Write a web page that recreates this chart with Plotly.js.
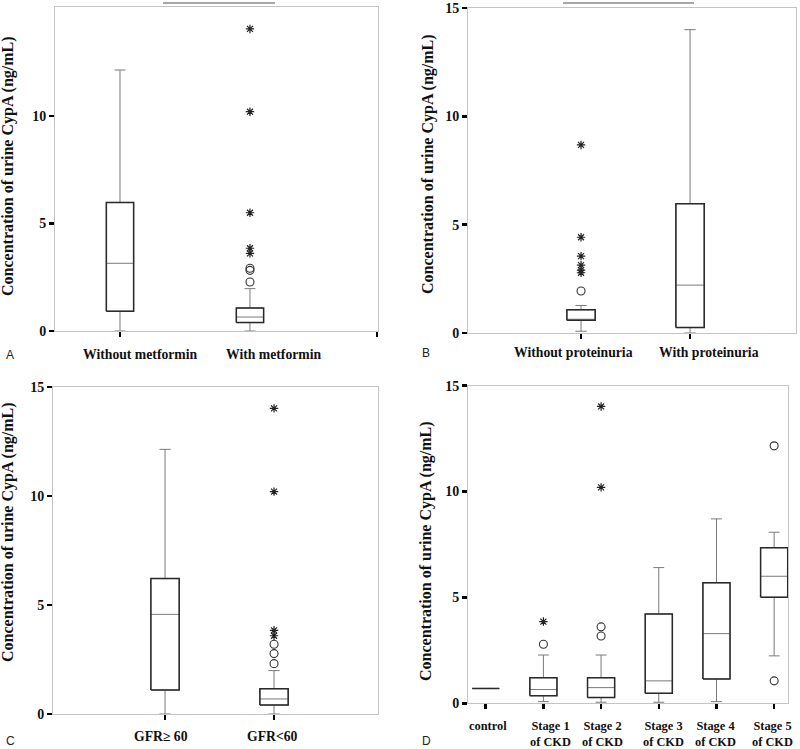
<!DOCTYPE html>
<html>
<head>
<meta charset="utf-8">
<script src="https://cdn.plot.ly/plotly-3.0.1.min.js"></script>
<style>html,body{margin:0;padding:0;background:#fff;}#chart{width:800px;height:749px;}</style>
</head>
<body>
<div id="chart"></div>
<script>
// ---- Data ----
// Panel A
const catsA = ["Without metformin", "With metformin"];
const q1A = [0.92, 0.39];
const medA = [3.15, 0.65];
const q3A = [5.98, 1.07];
const loA = [0.0, 0.0];
const hiA = [12.14, 1.97];
const circA = [2.28, 2.82, 2.92];
const circAcat = [1, 1, 1];
const starA = [3.61, 3.85, 5.5, 10.2, 14.05];
const starAcat = [1, 1, 1, 1, 1];

// Panel B
const catsB = ["Without proteinuria", "With proteinuria"];
const q1B = [0.59, 0.25];
const medB = [0.63, 2.21];
const q3B = [1.07, 5.97];
const loB = [0.08, 0.0];
const hiB = [1.27, 14.0];
const circB = [1.94];
const circBcat = [0];
const starB = [2.78, 2.9, 3.13, 3.55, 4.42, 8.68];
const starBcat = [0, 0, 0, 0, 0, 0];

// Panel C
const catsC = ["GFR\u2265 60", "GFR<60"];
const q1C = [1.10, 0.41];
const medC = [4.57, 0.69];
const q3C = [6.21, 1.16];
const loC = [0.0, 0.0];
const hiC = [12.14, 1.99];
const circC = [2.31, 2.77, 3.2];
const circCcat = [1, 1, 1];
const starC = [3.59, 3.84, 10.2, 14.02];
const starCcat = [1, 1, 1, 1];

// Panel D
const catsD = ["control", "Stage 1<br>of CKD", "Stage 2<br>of CKD", "Stage 3<br>of CKD", "Stage 4<br>of CKD", "Stage 5<br>of CKD"];
const q1D = [0.70, 0.36, 0.27, 0.47, 1.15, 5.01];
const medD = [0.70, 0.65, 0.74, 1.06, 3.29, 6.00];
const q3D = [0.70, 1.21, 1.21, 4.22, 5.69, 7.35];
const loD = [0.70, 0.08, 0.05, 0.05, 0.08, 2.24];
const hiD = [0.70, 2.28, 2.28, 6.41, 8.71, 8.08];
const circD = [2.79, 3.18, 3.61, 1.06, 12.16];
const circDcat = [1, 2, 2, 5, 5];
const starD = [3.86, 10.2, 14.02];
const starDcat = [1, 2, 2];

// ---- Styling / layout helpers ----
const GRAY = "#7a7a7a", BOXC = "#2a2a2a", FRAME = "#c4c4c4";
const serif = "Liberation Serif, Times New Roman, serif";

const panels = [
  {id: "", cats: catsA, q1: q1A, med: medA, q3: q3A, lo: loA, hi: hiA, circ: circA, circCat: circAcat, star: starA, starCat: starAcat,
   boxW: 0.21, xdom: [55/800, 378/800], ydom: [1-331/749, 1-7/749], xr: [-0.5, 1.985], yr: [0, 15.07],
   xt: [0, 1.978], yt: [0, 5, 10], labX: [0.154, 1.185], labY: 1-354/749, titleX: 8/800, titleY: 1-166/749,
   letter: "A", letX: 4/800, letY: 1-355/749, topSeg: [163/800, 275/800]},
  {id: "2", cats: catsB, q1: q1B, med: medB, q3: q3B, lo: loB, hi: hiB, circ: circB, circCat: circBcat, star: starB, starCat: starBcat,
   boxW: 0.26, xdom: [468/800, 796/800], ydom: [1-333/749, 1-8/749], xr: [-1.037, 1.972], yr: [0, 15],
   xt: [0, 1], yt: [0, 5, 10, 15], labX: [-0.073, 1.174], labY: 1-352/749, titleX: 428/800, titleY: 1-164/749,
   letter: "B", letX: 420/800, letY: 1-353/749, topSeg: [563/800, 694/800]},
  {id: "3", cats: catsC, q1: q1C, med: medC, q3: q3C, lo: loC, hi: hiC, circ: circC, circCat: circCcat, star: starC, starCat: starCcat,
   boxW: 0.26, xdom: [53/800, 378/800], ydom: [1-714/749, 1-387/749], xr: [-1.028, 1.954], yr: [0, 15],
   xt: [0, 1], yt: [0, 5, 10, 15], labX: [-0.037, 0.99], labY: 1-736/749, titleX: 8/800, titleY: 1-532/749,
   letter: "C", letX: 4/800, letY: 1-741/749, topSeg: null},
  {id: "4", cats: catsD, q1: q1D, med: medD, q3: q3D, lo: loD, hi: hiD, circ: circD, circCat: circDcat, star: starD, starCat: starDcat,
   boxW: 0.47, xdom: [468/800, 788/800], ydom: [1-703.3/749, 1-385.7/749], xr: [-0.307, 5.24], yr: [0, 15],
   xt: [0, 1, 2, 3, 4, 5], yt: [0, 5, 10, 15], labX: [0.04, 1.13, 2.03, 3.09, 3.98, 4.97], labY: 1-717/749, titleX: 426/800, titleY: 1-551/749,
   letter: "D", letX: 420/800, letY: 1-741/749, topSeg: null}
];

const traces = [];
const layout = {
  width: 800, height: 749, margin: {l: 0, r: 0, t: 0, b: 0},
  paper_bgcolor: "#fff", plot_bgcolor: "#fff", showlegend: false,
  boxmode: "overlay", annotations: [], shapes: []
};

panels.forEach(p => {
  const xa = "x" + p.id, ya = "y" + p.id;
  const idx = p.cats.map((c, i) => i);
  // whiskers + median (gray)
  traces.push({type: "box", xaxis: xa, yaxis: ya, x: idx, q1: p.q1, median: p.med, q3: p.q3,
    lowerfence: p.lo, upperfence: p.hi, width: p.boxW, whiskerwidth: 0.4, boxpoints: false,
    line: {color: GRAY, width: 1}, fillcolor: "rgba(255,255,255,1)", hoverinfo: "skip"});
  // dark box outline built from q1/q3 of each category
  const ox = [], oy = [];
  idx.forEach(i => {
    const h = p.boxW / 2;
    ox.push(i - h, i + h, i + h, i - h, i - h, null);
    oy.push(p.q1[i], p.q1[i], p.q3[i], p.q3[i], p.q1[i], null);
  });
  traces.push({type: "scatter", mode: "lines", xaxis: xa, yaxis: ya, x: ox, y: oy,
    line: {color: BOXC, width: 1.5}, hoverinfo: "skip"});
  // outliers
  traces.push({type: "scatter", mode: "markers", xaxis: xa, yaxis: ya, x: p.circCat, y: p.circ,
    marker: {symbol: "circle-open", size: 8, color: "#333", line: {width: 1.1, color: "#333"}}, hoverinfo: "skip"});
  traces.push({type: "scatter", mode: "markers", xaxis: xa, yaxis: ya, x: p.starCat, y: p.star,
    marker: {symbol: "asterisk-open", size: 7, color: "#222", line: {width: 1.2, color: "#222"}}, hoverinfo: "skip"});

  const xkey = "xaxis" + p.id, ykey = "yaxis" + p.id;
  layout[xkey] = {domain: p.xdom, range: p.xr, anchor: ya, showgrid: false, zeroline: false,
    showline: true, linecolor: FRAME, linewidth: 1, mirror: true,
    tickmode: "array", tickvals: p.xt, ticktext: p.xt.map(() => ""), ticks: "outside", ticklen: 5,
    tickwidth: 2.5, tickcolor: "#000", fixedrange: true};
  layout[ykey] = {domain: p.ydom, range: p.yr, anchor: xa, showgrid: false, zeroline: false,
    showline: true, linecolor: FRAME, linewidth: 1, mirror: true,
    tickmode: "array", tickvals: p.yt, ticktext: p.yt.map(v => "<b>" + v + "</b>"), ticks: "outside", ticklen: 5,
    tickwidth: 2.5, tickcolor: "#000", tickfont: {family: serif, size: 14, color: "#111"}, fixedrange: true};

  // category labels
  p.cats.forEach((c, i) => {
    layout.annotations.push({xref: xa, yref: "paper", x: p.labX[i], y: p.labY, text: "<b>" + c + "</b>",
      showarrow: false, font: {family: serif, size: p.id === "4" ? 12.4 : 13.7, color: "#111"},
      xanchor: "center", yanchor: p.id === "4" ? "top" : "middle"});
  });
  // y-axis title
  layout.annotations.push({xref: "paper", yref: "paper", x: p.titleX, y: p.titleY, textangle: -90,
    text: "<b>Concentration of urine CypA (ng/mL)</b>", showarrow: false,
    font: {family: serif, size: 16, color: "#111"}, xanchor: "center", yanchor: "middle"});
  // panel letter
  layout.annotations.push({xref: "paper", yref: "paper", x: p.letX, y: p.letY, text: p.letter, showarrow: false,
    font: {family: "Liberation Sans, Arial, sans-serif", size: 12, color: "#222"}, xanchor: "left", yanchor: "middle"});
  if (p.topSeg) {
    layout.shapes.push({type: "line", xref: "paper", yref: "paper", x0: p.topSeg[0], x1: p.topSeg[1],
      y0: 1 - 3/749, y1: 1 - 3/749, line: {color: "#8a8a8a", width: 1.5}});
  }
});

Plotly.newPlot("chart", traces, layout, {displayModeBar: false, staticPlot: true});
</script>
</body>
</html>
